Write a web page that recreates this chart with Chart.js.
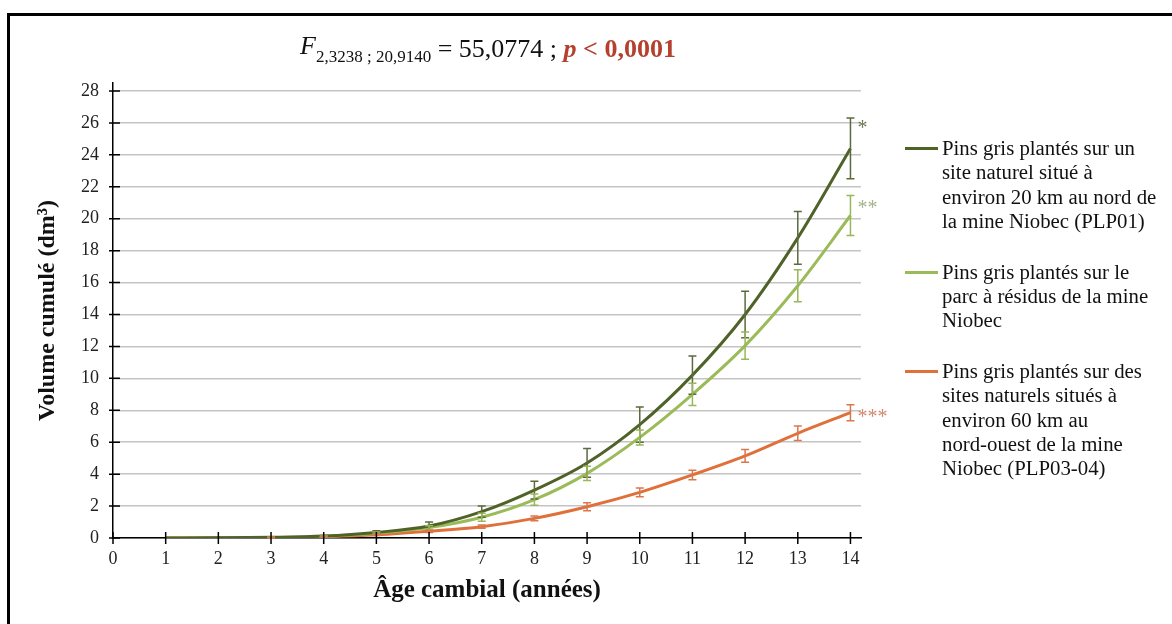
<!DOCTYPE html>
<html>
<head>
<meta charset="utf-8">
<script src="https://cdn.jsdelivr.net/npm/chart.js@4.4.1/dist/chart.umd.min.js"></script>
<style>
  html, body { margin: 0; padding: 0; background: #fff; }
  body { width: 1172px; height: 624px; overflow: hidden; font-family: "Liberation Serif", "Times New Roman", serif; }
  #wrap { position: relative; width: 1172px; height: 624px; }
  #chart { position: absolute; left: 0; top: 0; }
  #frame { position: absolute; left: 7px; top: 13px; width: 1190px; height: 640px; border: 3px solid #000; box-sizing: border-box; pointer-events: none; }
  #title { position: absolute; left: 0; top: 34px; width: 976px; text-align: center; font-size: 26px; line-height: 30px; color: #111; white-space: nowrap; }
  #title .f { font-style: italic; position: relative; top: -3px; }
  #title sub { font-size: 17px; vertical-align: -5px; line-height: 0; }
  #title .p { color: #b5402e; font-weight: bold; }
  #legend { position: absolute; left: 905px; top: 136px; }
  .item { position: relative; margin-bottom: 26px; }
  .swatch { position: absolute; left: 0; top: 11px; width: 33px; height: 3px; }
  .txt { margin-left: 37px; font-size: 20.8px; line-height: 24.4px; color: #111; white-space: pre; }
</style>
</head>
<body>
<div id="wrap">
  <canvas id="chart" width="1172" height="624"></canvas>
  <div id="title"><span class="f">F</span><sub>2,3238 ; 20,9140</sub> = 55,0774 ; <span class="p"><i>p</i> &lt; 0,0001</span></div>
  <div id="legend"></div>
  <div id="frame"></div>
</div>
<script>
// âge cambial (années)
const ages = [1, 2, 3, 4, 5, 6, 7, 8, 9, 10, 11, 12, 13, 14];

// volume cumulé moyen (dm3) et erreurs
const plp01 = [0, 0.01, 0.04, 0.12, 0.35, 0.75, 1.65, 3.0, 4.7, 7.1, 10.2, 14.0, 18.8, 24.4];
const plp01Err = [0, 0, 0.01, 0.04, 0.1, 0.25, 0.35, 0.55, 0.9, 1.1, 1.2, 1.45, 1.65, 1.9];
const parc = [0, 0.01, 0.03, 0.1, 0.3, 0.65, 1.3, 2.4, 4.05, 6.3, 9.0, 12.05, 15.8, 20.2];
const parcErr = [0, 0, 0.01, 0.03, 0.07, 0.12, 0.25, 0.35, 0.45, 0.47, 0.7, 0.85, 1.0, 1.25];
const plp0304 = [0, 0.01, 0.03, 0.08, 0.2, 0.42, 0.71, 1.23, 1.96, 2.86, 3.95, 5.14, 6.56, 7.85];
const plp0304Err = [0, 0, 0.01, 0.02, 0.05, 0.07, 0.1, 0.15, 0.25, 0.27, 0.3, 0.4, 0.45, 0.5];

const seriesNames = [
    'Pins gris plantés sur un\nsite naturel situé à\nenviron 20 km au nord de\nla mine Niobec (PLP01)',
    'Pins gris plantés sur le\nparc à résidus de la mine\nNiobec',
    'Pins gris plantés sur des\nsites naturels situés à\nenviron 60 km au\nnord-ouest de la mine\nNiobec (PLP03-04)'
];
const signif = ['*', '**', '***'];
const signifLevel = [25.9, 20.9, 7.8];

const lineColors = ['#4f6228', '#9bbb59', '#e0703a'];
const barColors = ['#5b6b3c', '#98b65a', '#d9784c'];
const starColors = ['#6b7656', '#a3b38a', '#d4876a'];

const values = [plp01, parc, plp0304];
const errors = [plp01Err, parcErr, plp0304Err];

const serif = '"Liberation Serif", "Times New Roman", serif';

const errorBars = {
    id: 'errorBars',
    afterDatasetsDraw(chart) {
        const ctx = chart.ctx;
        const xs = chart.scales.x, ys = chart.scales.y;
        ctx.save();
        ctx.lineWidth = 1.5;
        values.forEach((vals, i) => {
            ctx.strokeStyle = barColors[i];
            ages.forEach((a, j) => {
                if (!errors[i][j]) return;
                const x = xs.getPixelForValue(a);
                const y1 = ys.getPixelForValue(vals[j] + errors[i][j]);
                const y2 = ys.getPixelForValue(Math.max(0, vals[j] - errors[i][j]));
                ctx.beginPath();
                ctx.moveTo(x, y1); ctx.lineTo(x, y2);
                ctx.moveTo(x - 4, y1); ctx.lineTo(x + 4, y1);
                ctx.moveTo(x - 4, y2); ctx.lineTo(x + 4, y2);
                ctx.stroke();
            });
            // significance stars
            ctx.fillStyle = starColors[i];
            ctx.font = '20px ' + serif;
            ctx.textBaseline = 'middle';
            ctx.fillText(signif[i], xs.getPixelForValue(ages[ages.length - 1]) + 7, ys.getPixelForValue(signifLevel[i]) + 4);
        });
        ctx.restore();
    }
};

// tick marks crossing the axes
const crossTicks = {
    id: 'crossTicks',
    afterDraw(chart) {
        const ctx = chart.ctx;
        const xs = chart.scales.x, ys = chart.scales.y;
        const ax = xs.getPixelForValue(0), ay = ys.getPixelForValue(0);
        ctx.save();
        ctx.strokeStyle = '#000';
        ctx.lineWidth = 1.5;
        ctx.beginPath();
        ys.ticks.forEach(t => {
            const y = ys.getPixelForValue(t.value);
            ctx.moveTo(ax - 4, y); ctx.lineTo(ax + 7, y);
        });
        xs.ticks.forEach(t => {
            const x = xs.getPixelForValue(t.value);
            ctx.moveTo(x, ay - 6); ctx.lineTo(x, ay + 6);
        });
        ctx.stroke();
        ctx.restore();
    }
};

const chart = new Chart(document.getElementById('chart'), {
    type: 'line',
    data: {
        datasets: values.map((vals, i) => ({
            label: seriesNames[i],
            data: ages.map((a, j) => ({ x: a, y: vals[j] })),
            borderColor: lineColors[i],
            backgroundColor: lineColors[i],
            borderWidth: 3,
            pointRadius: 0,
            cubicInterpolationMode: 'monotone',
            fill: false
        }))
    },
    options: {
        responsive: false,
        animation: false,
        layout: { padding: { top: 83, right: 311, left: 0, bottom: 0 } },
        plugins: { legend: { display: false }, tooltip: { enabled: false } },
        scales: {
            x: {
                type: 'linear',
                min: 0, max: 14.2,
                afterBuildTicks: (s) => { s.ticks = s.ticks.filter(t => Number.isInteger(t.value)); },
                afterFit: (s) => { s.height = 86; },
                ticks: { stepSize: 1, includeBounds: false, padding: 10, color: '#222', font: { family: serif, size: 18 }, maxRotation: 0, autoSkip: false },
                grid: { display: false, drawTicks: false },
                border: { display: true, color: '#000', width: 1.5 },
                title: { display: true, text: 'Âge cambial (années)', color: '#111', font: { family: serif, size: 25, weight: 'bold' }, padding: { top: 0, bottom: 18 } }
            },
            y: {
                min: 0, max: 28.5,
                afterBuildTicks: (s) => { s.ticks = s.ticks.filter(t => t.value % 2 === 0); },
                afterFit: (s) => { s.width = 113; },
                ticks: { stepSize: 2, includeBounds: false, padding: 14, color: '#222', font: { family: serif, size: 18 } },
                grid: { color: '#c4c4c4', lineWidth: 1.5, drawTicks: false },
                border: { display: true, color: '#000', width: 1.5 },
                title: { display: true, text: 'Volume cumulé (dm³)', color: '#111', font: { family: serif, size: 24, weight: 'bold' }, padding: { top: 33, bottom: 0 } }
            }
        }
    },
    plugins: [errorBars, crossTicks]
});

// legend built from the datasets
const legend = document.getElementById('legend');
chart.data.datasets.forEach(ds => {
    const item = document.createElement('div');
    item.className = 'item';
    const sw = document.createElement('div');
    sw.className = 'swatch';
    sw.style.background = ds.borderColor;
    const txt = document.createElement('div');
    txt.className = 'txt';
    txt.textContent = ds.label;
    item.appendChild(sw);
    item.appendChild(txt);
    legend.appendChild(item);
});
</script>
</body>
</html>
